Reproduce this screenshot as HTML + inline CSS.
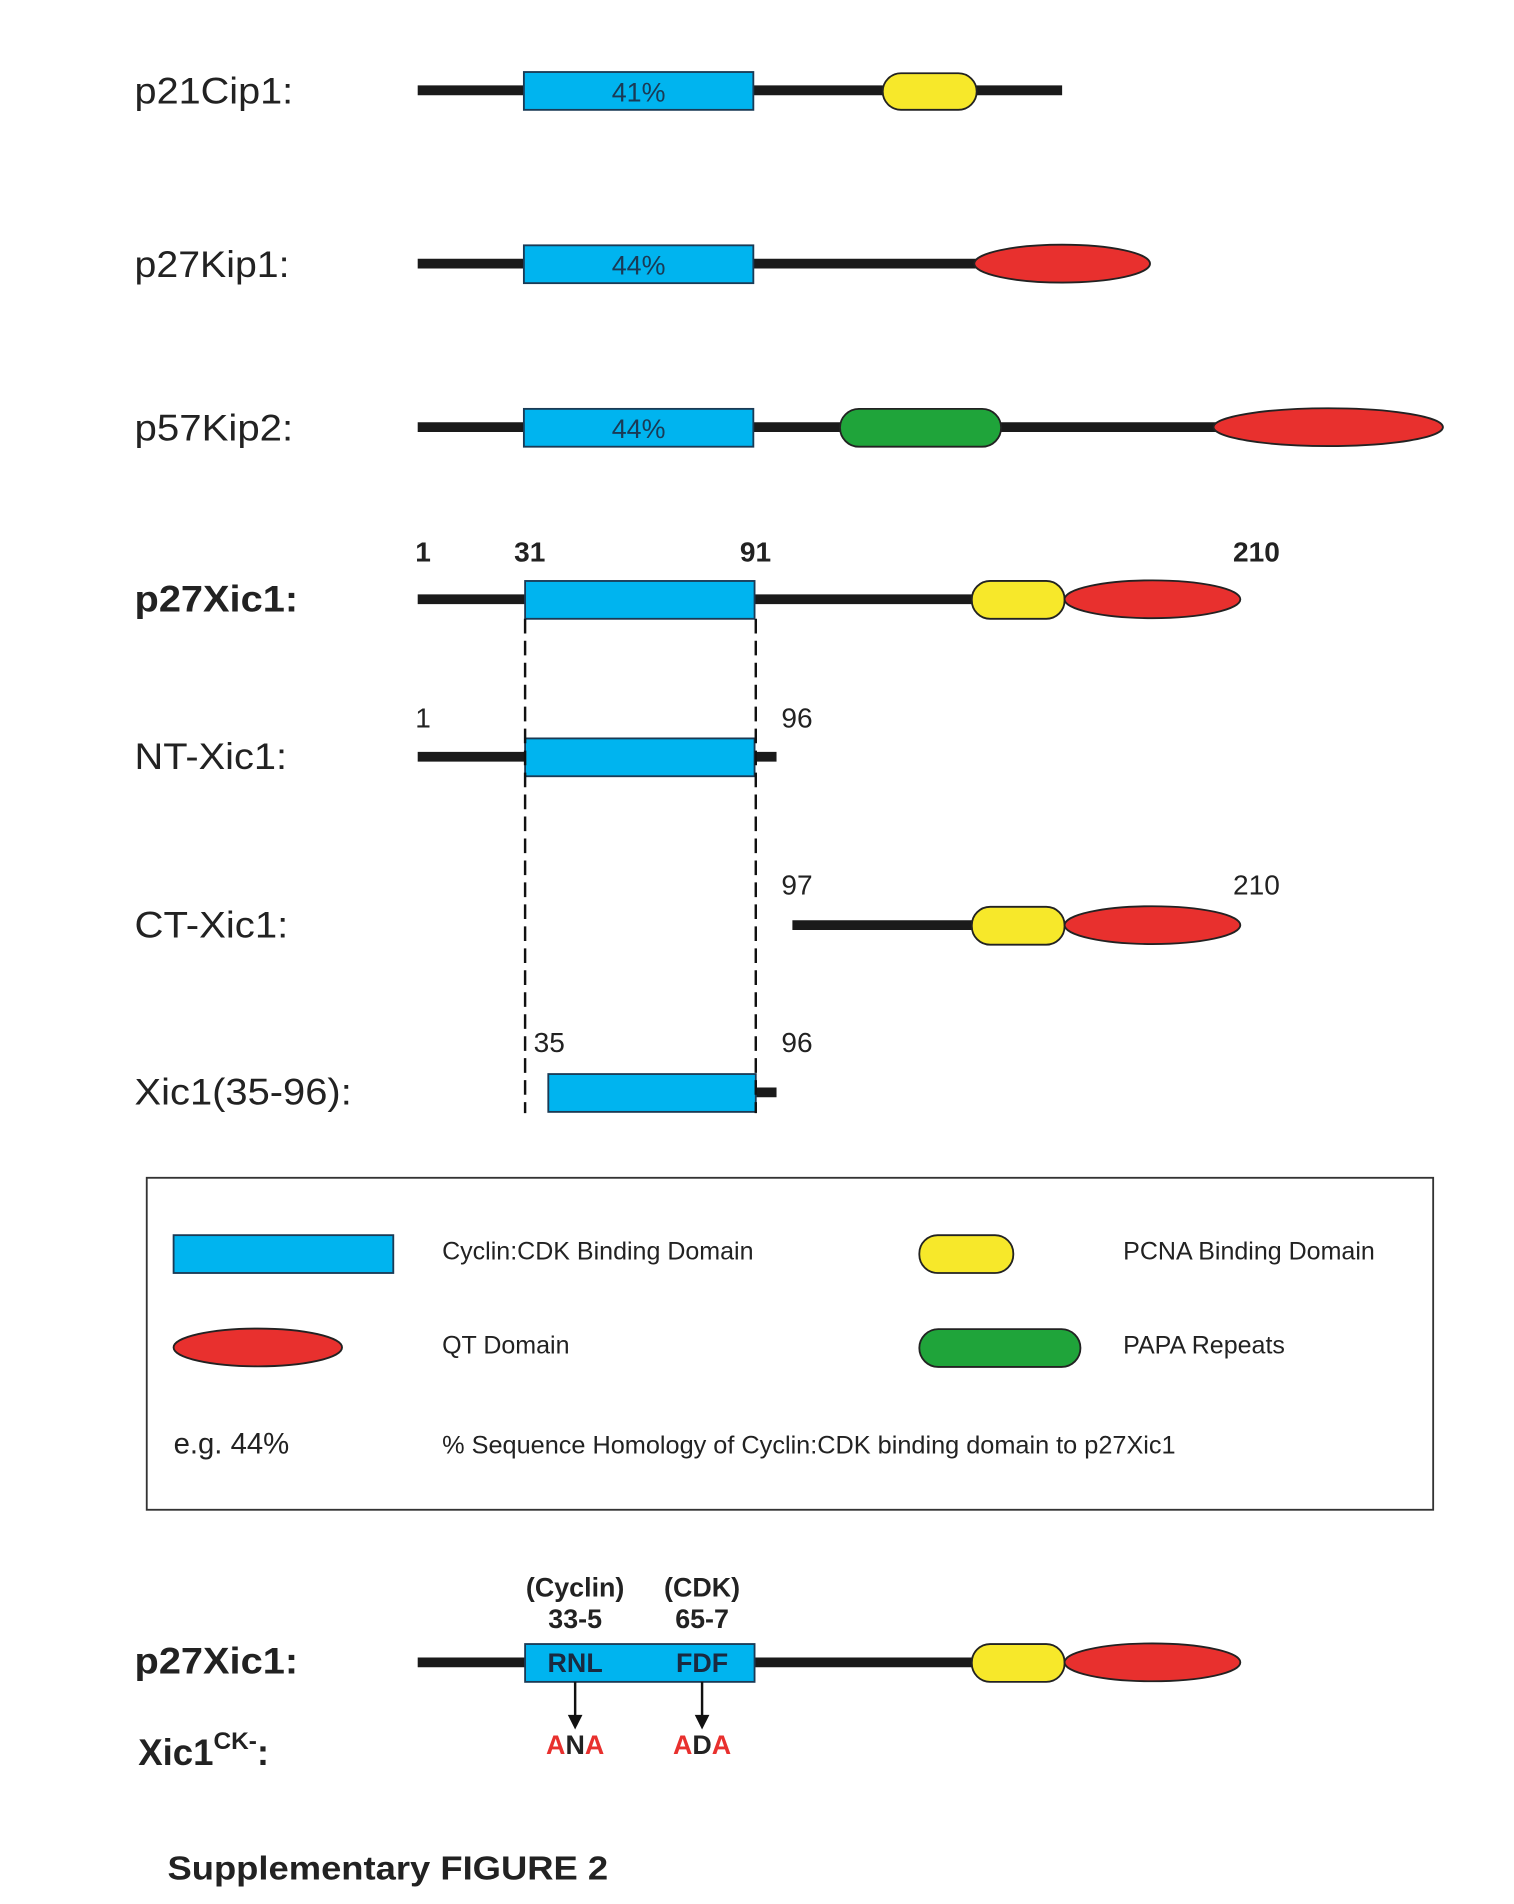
<!DOCTYPE html>
<html><head><meta charset="utf-8"><style>
html,body{margin:0;padding:0;background:#fff;}
svg{display:block;}
text{font-family:"Liberation Sans",Arial,sans-serif;}
</style></head><body>
<svg width="1514" height="1904" viewBox="0 0 1240 1560" xmlns="http://www.w3.org/2000/svg">
<g font-size="30" fill="#222">
<text x="110" y="85" textLength="130" lengthAdjust="spacingAndGlyphs">p21Cip1:</text>
<text x="110" y="227" textLength="127" lengthAdjust="spacingAndGlyphs">p27Kip1:</text>
<text x="110" y="361" textLength="130" lengthAdjust="spacingAndGlyphs">p57Kip2:</text>
<text x="110" y="501" font-weight="bold" textLength="134" lengthAdjust="spacingAndGlyphs">p27Xic1:</text>
<text x="110" y="630" textLength="125" lengthAdjust="spacingAndGlyphs">NT-Xic1:</text>
<text x="110" y="768" textLength="126" lengthAdjust="spacingAndGlyphs">CT-Xic1:</text>
<text x="110" y="905" textLength="178" lengthAdjust="spacingAndGlyphs">Xic1(35-96):</text>
<text x="110" y="1371" font-weight="bold" textLength="134" lengthAdjust="spacingAndGlyphs">p27Xic1:</text>
<text x="113" y="1446" font-weight="bold">Xic1<tspan font-size="20" dy="-13">CK-</tspan><tspan dy="13">:</tspan></text>
</g>
<g stroke="#1a1a1a" stroke-width="8">
<line x1="342" y1="74" x2="870" y2="74"/>
<line x1="342" y1="216" x2="800" y2="216"/>
<line x1="342" y1="350" x2="1000" y2="350"/>
<line x1="342" y1="491" x2="800" y2="491"/>
<line x1="342" y1="620" x2="636" y2="620"/>
<line x1="649" y1="758" x2="800" y2="758"/>
<line x1="618" y1="895" x2="636" y2="895"/>
<line x1="342" y1="1362" x2="800" y2="1362"/>
</g>
<g fill="#00b4ef" stroke="#1a3a55" stroke-width="1.5">
<rect x="429" y="59" width="188" height="31"/>
<rect x="429" y="201" width="188" height="31"/>
<rect x="429" y="335" width="188" height="31"/>
<rect x="430" y="476" width="188" height="31"/>
<rect x="430" y="605" width="188" height="31"/>
<rect x="449" y="880" width="170" height="31"/>
<rect x="430" y="1347" width="188" height="31"/>
<rect x="142" y="1012" width="180" height="31"/>
</g>
<g font-size="22" fill="#1a3a55" text-anchor="middle">
<text x="523" y="83">41%</text>
<text x="523" y="225">44%</text>
<text x="523" y="359">44%</text>
</g>
<g stroke="#222" stroke-width="1.5">
<rect x="723" y="60" width="77" height="30" rx="15" fill="#f7e82a"/>
<ellipse cx="870" cy="216" rx="72" ry="15.5" fill="#e8302e"/>
<rect x="688" y="335" width="132" height="31" rx="15.5" fill="#1fa43a"/>
<ellipse cx="1088" cy="350" rx="94" ry="15.5" fill="#e8302e"/>
<rect x="796" y="476" width="76" height="31" rx="15" fill="#f7e82a"/>
<ellipse cx="944" cy="491" rx="72" ry="15.5" fill="#e8302e"/>
<rect x="796" y="743" width="76" height="31" rx="15" fill="#f7e82a"/>
<ellipse cx="944" cy="758" rx="72" ry="15.5" fill="#e8302e"/>
<rect x="796" y="1347" width="76" height="31" rx="15" fill="#f7e82a"/>
<ellipse cx="944" cy="1362" rx="72" ry="15.5" fill="#e8302e"/>
<rect x="753" y="1012" width="77" height="31" rx="15" fill="#f7e82a"/>
<ellipse cx="211" cy="1104" rx="69" ry="15.5" fill="#e8302e"/>
<rect x="753" y="1089" width="132" height="31" rx="15.5" fill="#1fa43a"/>
</g>
<g stroke="#111" stroke-width="2" stroke-dasharray="12,6">
<line x1="430" y1="507" x2="430" y2="912"/>
<line x1="619" y1="507" x2="619" y2="912"/>
</g>
<g font-size="23" fill="#222">
<text x="340" y="460" font-weight="bold">1</text>
<text x="421" y="460" font-weight="bold">31</text>
<text x="606" y="460" font-weight="bold">91</text>
<text x="1010" y="460" font-weight="bold">210</text>
<text x="340" y="596">1</text>
<text x="640" y="596">96</text>
<text x="640" y="733">97</text>
<text x="1010" y="733">210</text>
<text x="437" y="862">35</text>
<text x="640" y="862">96</text>
</g>
<rect x="120" y="965" width="1054" height="272" fill="none" stroke="#333" stroke-width="1.5"/>
<g font-size="20.5" fill="#222">
<text x="362" y="1032">Cyclin:CDK Binding Domain</text>
<text x="920" y="1032">PCNA Binding Domain</text>
<text x="362" y="1109">QT Domain</text>
<text x="920" y="1109">PAPA Repeats</text>
<text x="142" y="1191" font-size="24">e.g. 44%</text>
<text x="362" y="1191" textLength="601" lengthAdjust="spacingAndGlyphs">% Sequence Homology of Cyclin:CDK binding domain to p27Xic1</text>
</g>
<g font-size="22" font-weight="bold" fill="#222" text-anchor="middle">
<text x="471" y="1308">(Cyclin)</text>
<text x="471" y="1334">33-5</text>
<text x="575" y="1308">(CDK)</text>
<text x="575" y="1334">65-7</text>
<text x="471" y="1370" fill="#1a2a40">RNL</text>
<text x="575" y="1370" fill="#1a2a40">FDF</text>
<text x="471" y="1437"><tspan fill="#e8302e">A</tspan>N<tspan fill="#e8302e">A</tspan></text>
<text x="575" y="1437"><tspan fill="#e8302e">A</tspan>D<tspan fill="#e8302e">A</tspan></text>
</g>
<g stroke="#111" stroke-width="2" fill="#111">
<line x1="471" y1="1378" x2="471" y2="1410"/>
<line x1="575" y1="1378" x2="575" y2="1410"/>
<path d="M465 1405 L471 1417 L477 1405 Z" stroke="none"/>
<path d="M569 1405 L575 1417 L581 1405 Z" stroke="none"/>
</g>
<text x="137" y="1540" font-size="27" font-weight="bold" fill="#222" textLength="361" lengthAdjust="spacingAndGlyphs">Supplementary FIGURE 2</text>
</svg>
</body></html>
